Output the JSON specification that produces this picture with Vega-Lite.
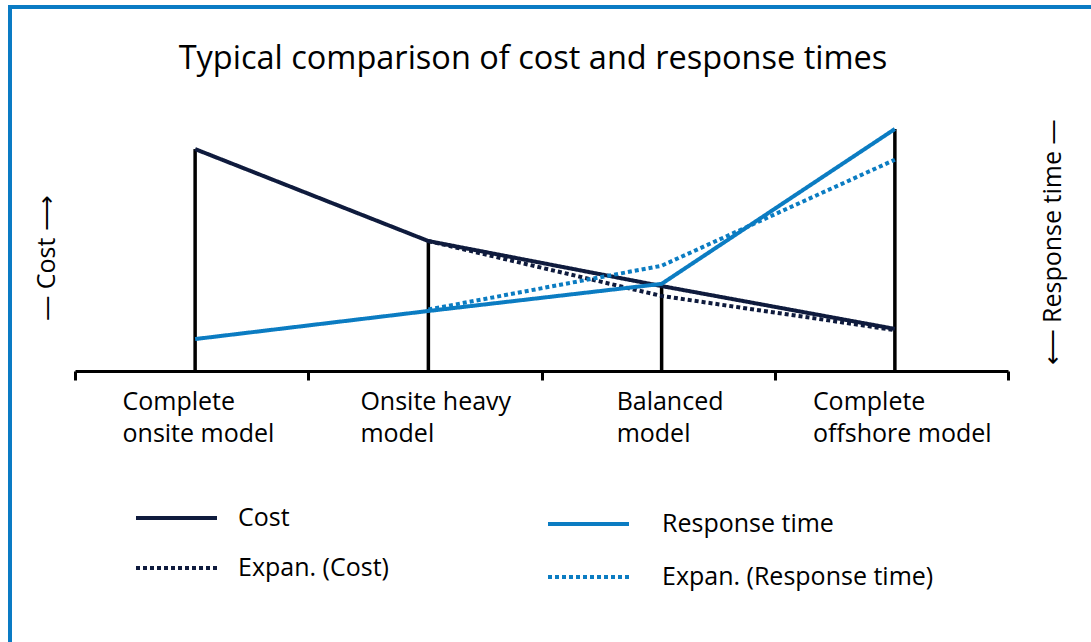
{
  "$schema": "https://vega.github.io/schema/vega-lite/v6.json",
  "width": 1100,
  "height": 660,
  "autosize": {"type": "none"},
  "padding": {"left": 10, "top": 7, "right": -19, "bottom": -25},
  "background": "white",
  "title": {
    "text": "Typical comparison of cost and response times",
    "font": "Open Sans",
    "fontSize": 32.5,
    "fontWeight": "normal",
    "color": "black",
    "anchor": "middle",
    "frame": "group",
    "orient": "top",
    "baseline": "alphabetic",
    "offset": -94,
    "dx": -27
  },
  "config": {
    "font": "Open Sans",
    "view": {"stroke": "#0a7bc4", "strokeWidth": 4}
  },
  "data": {
    "values": [
      {"model": "Complete\nonsite model", "series": "Cost", "value": 91.7},
      {"model": "Onsite heavy\nmodel", "series": "Cost", "value": 53.7},
      {"model": "Balanced\nmodel", "series": "Cost", "value": 35.1},
      {"model": "Complete\noffshore model", "series": "Cost", "value": 17.4},
      {"model": "Onsite heavy\nmodel", "series": "Expan. (Cost)", "value": 53.7},
      {"model": "Balanced\nmodel", "series": "Expan. (Cost)", "value": 31.0},
      {"model": "Complete\noffshore model", "series": "Expan. (Cost)", "value": 16.9},
      {"model": "Complete\nonsite model", "series": "Response time", "value": 13.2},
      {"model": "Onsite heavy\nmodel", "series": "Response time", "value": 24.8},
      {"model": "Balanced\nmodel", "series": "Response time", "value": 36.0},
      {"model": "Complete\noffshore model", "series": "Response time", "value": 100},
      {"model": "Onsite heavy\nmodel", "series": "Expan. (Response time)", "value": 25.4},
      {"model": "Balanced\nmodel", "series": "Expan. (Response time)", "value": 43.5},
      {"model": "Complete\noffshore model", "series": "Expan. (Response time)", "value": 87.3}
    ]
  },
  "encoding": {
    "x": {
      "field": "model",
      "type": "nominal",
      "bandPosition": 0.515,
      "sort": ["Complete\nonsite model", "Onsite heavy\nmodel", "Balanced\nmodel", "Complete\noffshore model"],
      "scale": {"type": "band", "range": [65, 998], "paddingInner": 0, "paddingOuter": 0},
      "axis": {
        "orient": "bottom",
        "offset": -296,
        "title": null,
        "grid": false,
        "tickBand": "extent",
        "domainColor": "black",
        "domainWidth": 3,
        "tickColor": "black",
        "tickWidth": 3,
        "tickSize": 9,
        "labelAngle": 0,
        "labelFont": "Open Sans",
        "labelFontSize": 25,
        "labelColor": "black",
        "labelAlign": "left",
        "labelBaseline": "top",
        "labelPadding": 9,
        "labelLineHeight": 32,
        "labelLimit": 400,
        "labelOverlap": false,
        "labelBound": false,
        "labelFlush": false,
        "labelOffset": {
          "condition": [
            {"test": "isString(datum.value) && indexof(datum.value, 'Balanced') === 0", "value": -42},
            {"test": "isString(datum.value) && indexof(datum.value, 'Onsite') === 0", "value": -65},
            {"test": "isString(datum.value) && indexof(datum.value, 'offshore') > 0", "value": -79}
          ],
          "value": -69.6
        },
        "labelExpr": "isString(datum.value) ? split(datum.value, '\\n') : ''"
      }
    }
  },
  "layer": [
    {
      "transform": [
        {"filter": {"field": "series", "oneOf": ["Cost", "Response time"]}},
        {"aggregate": [{"op": "max", "field": "value", "as": "top"}], "groupby": ["model"]}
      ],
      "mark": {"type": "rule", "color": "black", "strokeWidth": 3.5},
      "encoding": {
        "y": {"field": "top", "type": "quantitative", "scale": {"domain": [0, 100], "range": [364, 122], "nice": false, "zero": false}, "axis": null},
        "y2": {"datum": 0}
      }
    },
    {
      "transform": [{"filter": {"field": "series", "oneOf": ["Cost", "Expan. (Cost)"]}}],
      "mark": {"type": "line", "strokeWidth": 4, "strokeCap": "butt"},
      "encoding": {
        "y": {
          "field": "value", "type": "quantitative",
          "scale": {"domain": [0, 100], "range": [364, 122], "nice": false, "zero": false},
          "axis": {
            "orient": "left", "title": "— Cost ⟶", "domain": false, "ticks": false, "labels": false, "grid": false,
            "titleX": 36, "titleY": 250.5, "titleAngle": 270, "titleAlign": "center", "titleBaseline": "middle",
            "titleFont": "Open Sans", "titleFontSize": 25, "titleFontWeight": "normal", "titleColor": "black"
          }
        },
        "color": {
          "field": "series", "type": "nominal",
          "scale": {"domain": ["Cost", "Expan. (Cost)"], "range": ["#0f1b3d", "#0f1b3d"]},
          "legend": {"title": null, "orient": "none", "legendX": 124, "legendY": 498, "symbolType": "stroke", "symbolSize": 6561, "symbolStrokeWidth": 4, "clipHeight": 26, "labelFont": "Open Sans", "labelFontSize": 25, "labelColor": "black", "labelOffset": 19, "rowPadding": 24, "padding": 0, "labelLimit": 400}
        },
        "strokeDash": {
          "field": "series", "type": "nominal",
          "scale": {"domain": ["Cost", "Expan. (Cost)"], "range": [[1, 0], [4, 3]]},
          "legend": {"title": null, "orient": "none", "legendX": 124, "legendY": 498, "symbolType": "stroke", "symbolSize": 6561, "symbolStrokeWidth": 4, "clipHeight": 26, "labelFont": "Open Sans", "labelFontSize": 25, "labelColor": "black", "labelOffset": 19, "rowPadding": 24, "padding": 0, "labelLimit": 400}
        }
      }
    },
    {
      "transform": [{"filter": {"field": "series", "oneOf": ["Response time", "Expan. (Response time)"]}}],
      "mark": {"type": "line", "strokeWidth": 4, "strokeCap": "butt"},
      "encoding": {
        "y": {
          "field": "value", "type": "quantitative",
          "scale": {"domain": [0, 100], "range": [364, 122], "nice": false, "zero": false},
          "axis": {
            "orient": "right", "title": "⟵ Response time —", "domain": false, "ticks": false, "labels": false, "grid": false,
            "titleX": -58, "titleY": 235, "titleAngle": 270, "titleAlign": "center", "titleBaseline": "middle",
            "titleFont": "Open Sans", "titleFontSize": 25, "titleFontWeight": "normal", "titleColor": "black"
          }
        },
        "color": {
          "field": "series", "type": "nominal",
          "scale": {"domain": ["Response time", "Expan. (Response time)"], "range": ["#0b7cc2", "#0b7cc2"]},
          "legend": {"title": null, "orient": "none", "legendX": 536, "legendY": 504, "symbolType": "stroke", "symbolSize": 6561, "symbolStrokeWidth": 4, "clipHeight": 26, "labelFont": "Open Sans", "labelFontSize": 25, "labelColor": "black", "labelOffset": 31, "rowPadding": 27, "padding": 0, "labelLimit": 400}
        },
        "strokeDash": {
          "field": "series", "type": "nominal",
          "scale": {"domain": ["Response time", "Expan. (Response time)"], "range": [[1, 0], [4, 3]]},
          "legend": {"title": null, "orient": "none", "legendX": 536, "legendY": 504, "symbolType": "stroke", "symbolSize": 6561, "symbolStrokeWidth": 4, "clipHeight": 26, "labelFont": "Open Sans", "labelFontSize": 25, "labelColor": "black", "labelOffset": 31, "rowPadding": 27, "padding": 0, "labelLimit": 400}
        }
      }
    }
  ],
  "resolve": {
    "scale": {"color": "independent", "strokeDash": "independent"},
    "axis": {"y": "independent"}
  }
}
